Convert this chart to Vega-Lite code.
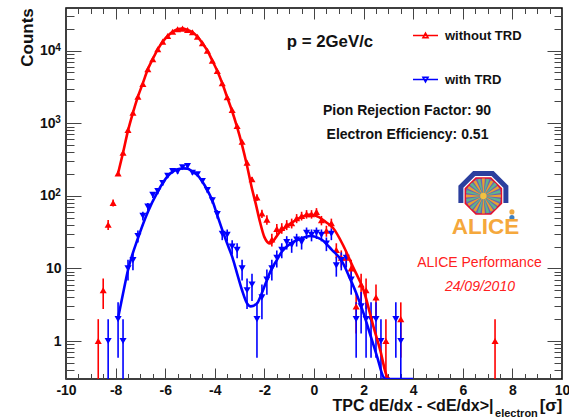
{
"$schema":"https://vega.github.io/schema/vega-lite/v6.json",
"autosize":{"type":"none"},
"padding":{"left":66,"top":8,"right":7,"bottom":40},
"width":496,"height":371,
"background":"white",
"config":{"font":"Liberation Sans","view":{"stroke":"#000","strokeWidth":1.5},"axis":{"grid":false,"domain":false,"labelFont":"Liberation Sans","labelFontWeight":"bold","labelFontSize":14,"labelColor":"#111","titleFont":"Liberation Sans","titleFontWeight":"bold","titleFontSize":16,"titleColor":"#111","tickColor":"#444","tickWidth":1,"labelFlush":false,"labelOverlap":false}},
"datasets":{
"pts":[
{"x":-8.7,"y":1,"lo":0.3,"hi":2,"s":"without TRD"},{"x":-8.5,"y":5,"lo":2.76,"hi":7.24,"s":"without TRD"},{"x":-8.3,"y":40,"lo":33.7,"hi":46.3,"s":"without TRD"},{"x":-8.1,"y":80,"lo":71,"hi":89,"s":"without TRD"},
{"x":-7.9,"y":204,"lo":190,"hi":218,"s":"without TRD"},{"x":-7.7,"y":392,"lo":372,"hi":412,"s":"without TRD"},{"x":-7.5,"y":806,"lo":778,"hi":834,"s":"without TRD"},{"x":-7.3,"y":1395,"lo":1358,"hi":1432,"s":"without TRD"},{"x":-7.1,"y":2317,"lo":2269,"hi":2365,"s":"without TRD"},{"x":-6.9,"y":3467,"lo":3408,"hi":3526,"s":"without TRD"},{"x":-6.7,"y":5526,"lo":5452,"hi":5600,"s":"without TRD"},{"x":-6.5,"y":7590,"lo":7503,"hi":7677,"s":"without TRD"},{"x":-6.3,"y":10420,"lo":10318,"hi":10522,"s":"without TRD"},{"x":-6.1,"y":13270,"lo":13155,"hi":13385,"s":"without TRD"},{"x":-5.9,"y":15890,"lo":15764,"hi":16016,"s":"without TRD"},{"x":-5.7,"y":18200,"lo":18065,"hi":18335,"s":"without TRD"},{"x":-5.5,"y":19640,"lo":19500,"hi":19780,"s":"without TRD"},{"x":-5.3,"y":20040,"lo":19898,"hi":20182,"s":"without TRD"},{"x":-5.1,"y":19220,"lo":19081,"hi":19359,"s":"without TRD"},{"x":-4.9,"y":17870,"lo":17736,"hi":18004,"s":"without TRD"},{"x":-4.7,"y":15540,"lo":15415,"hi":15665,"s":"without TRD"},{"x":-4.5,"y":12610,"lo":12498,"hi":12722,"s":"without TRD"},{"x":-4.3,"y":9970,"lo":9870,"hi":10070,"s":"without TRD"},{"x":-4.1,"y":7260,"lo":7175,"hi":7345,"s":"without TRD"},{"x":-3.9,"y":5240,"lo":5168,"hi":5312,"s":"without TRD"},{"x":-3.7,"y":3546,"lo":3486,"hi":3606,"s":"without TRD"},{"x":-3.5,"y":2274,"lo":2226,"hi":2322,"s":"without TRD"},{"x":-3.3,"y":1520,"lo":1481,"hi":1559,"s":"without TRD"},{"x":-3.1,"y":915,"lo":885,"hi":945,"s":"without TRD"},{"x":-2.9,"y":556,"lo":532,"hi":580,"s":"without TRD"},{"x":-2.7,"y":286,"lo":269,"hi":303,"s":"without TRD"},{"x":-2.5,"y":169,"lo":156,"hi":182,"s":"without TRD"},{"x":-2.3,"y":95,"lo":85,"hi":105,"s":"without TRD"},{"x":-2.1,"y":57,"lo":49.5,"hi":64.5,"s":"without TRD"},{"x":-1.9,"y":47,"lo":40,"hi":54,"s":"without TRD"},{"x":-1.7,"y":25,"lo":20,"hi":30,"s":"without TRD"},{"x":-1.5,"y":35,"lo":29,"hi":41,"s":"without TRD"},{"x":-1.3,"y":36,"lo":30,"hi":42,"s":"without TRD"},{"x":-1.1,"y":40,"lo":33.7,"hi":46.3,"s":"without TRD"},{"x":-0.9,"y":42,"lo":35.5,"hi":48.5,"s":"without TRD"},{"x":-0.7,"y":49,"lo":42,"hi":56,"s":"without TRD"},{"x":-0.5,"y":53,"lo":45.7,"hi":60.3,"s":"without TRD"},{"x":-0.3,"y":56,"lo":48.5,"hi":63.5,"s":"without TRD"},{"x":-0.1,"y":56,"lo":48.5,"hi":63.5,"s":"without TRD"},{"x":0.1,"y":60,"lo":52.3,"hi":67.7,"s":"without TRD"},{"x":0.3,"y":46,"lo":39.2,"hi":52.8,"s":"without TRD"},{"x":0.5,"y":33,"lo":27.3,"hi":38.7,"s":"without TRD"},{"x":0.7,"y":42,"lo":35.5,"hi":48.5,"s":"without TRD"},{"x":0.9,"y":18,"lo":13.8,"hi":22.2,"s":"without TRD"},{"x":1.1,"y":14,"lo":10.3,"hi":17.7,"s":"without TRD"},{"x":1.3,"y":14,"lo":10.3,"hi":17.7,"s":"without TRD"},{"x":1.5,"y":10,"lo":6.84,"hi":13.16,"s":"without TRD"},{"x":1.7,"y":3,"lo":1.27,"hi":4.73,"s":"without TRD"},{"x":1.9,"y":6,"lo":3.55,"hi":8.45,"s":"without TRD"},{"x":2.1,"y":5,"lo":2.76,"hi":7.24,"s":"without TRD"},{"x":2.5,"y":4,"lo":2,"hi":6,"s":"without TRD"},{"x":2.9,"y":1,"lo":0.3,"hi":2,"s":"without TRD"},{"x":3.5,"y":2,"lo":0.59,"hi":3.41,"s":"without TRD"},{"x":7.3,"y":1,"lo":0.3,"hi":2,"s":"without TRD"},
{"x":-8.3,"y":1,"lo":0.3,"hi":2,"s":"with TRD"},{"x":-7.9,"y":2,"lo":0.59,"hi":3.41,"s":"with TRD"},{"x":-7.7,"y":1,"lo":0.3,"hi":2,"s":"with TRD"},{"x":-7.5,"y":10,"lo":6.84,"hi":13.16,"s":"with TRD"},{"x":-7.3,"y":13,"lo":9.4,"hi":16.6,"s":"with TRD"},{"x":-7.1,"y":28,"lo":22.7,"hi":33.3,"s":"with TRD"},{"x":-6.9,"y":53,"lo":45.7,"hi":60.3,"s":"with TRD"},{"x":-6.7,"y":71,"lo":62.6,"hi":79.4,"s":"with TRD"},{"x":-6.5,"y":103,"lo":93,"hi":113,"s":"with TRD"},{"x":-6.3,"y":116,"lo":105,"hi":127,"s":"with TRD"},{"x":-6.1,"y":150,"lo":138,"hi":162,"s":"with TRD"},{"x":-5.9,"y":189,"lo":175,"hi":203,"s":"with TRD"},{"x":-5.7,"y":220,"lo":205,"hi":235,"s":"with TRD"},{"x":-5.5,"y":215,"lo":200,"hi":230,"s":"with TRD"},{"x":-5.3,"y":247,"lo":231,"hi":263,"s":"with TRD"},{"x":-5.1,"y":257,"lo":241,"hi":273,"s":"with TRD"},{"x":-4.9,"y":208,"lo":194,"hi":222,"s":"with TRD"},{"x":-4.7,"y":198,"lo":184,"hi":212,"s":"with TRD"},{"x":-4.5,"y":160,"lo":147,"hi":173,"s":"with TRD"},{"x":-4.3,"y":120,"lo":109,"hi":131,"s":"with TRD"},{"x":-4.1,"y":87,"lo":78,"hi":96,"s":"with TRD"},{"x":-3.9,"y":56,"lo":48.5,"hi":63.5,"s":"with TRD"},{"x":-3.7,"y":30,"lo":24.5,"hi":35.5,"s":"with TRD"},{"x":-3.5,"y":29,"lo":23.6,"hi":34.4,"s":"with TRD"},{"x":-3.3,"y":20,"lo":15.5,"hi":24.5,"s":"with TRD"},{"x":-3.1,"y":18,"lo":13.8,"hi":22.2,"s":"with TRD"},{"x":-2.9,"y":10,"lo":6.84,"hi":13.16,"s":"with TRD"},{"x":-2.7,"y":5,"lo":2.76,"hi":7.24,"s":"with TRD"},{"x":-2.5,"y":6,"lo":3.55,"hi":8.45,"s":"with TRD"},{"x":-2.3,"y":2,"lo":0.59,"hi":3.41,"s":"with TRD"},{"x":-2.1,"y":4,"lo":2,"hi":6,"s":"with TRD"},{"x":-1.9,"y":7,"lo":4.35,"hi":9.65,"s":"with TRD"},{"x":-1.7,"y":10,"lo":6.84,"hi":13.16,"s":"with TRD"},{"x":-1.5,"y":14,"lo":10.3,"hi":17.7,"s":"with TRD"},{"x":-1.3,"y":18,"lo":13.8,"hi":22.2,"s":"with TRD"},{"x":-1.1,"y":23,"lo":18.2,"hi":27.8,"s":"with TRD"},{"x":-0.9,"y":21,"lo":16.4,"hi":25.6,"s":"with TRD"},{"x":-0.7,"y":25,"lo":20,"hi":30,"s":"with TRD"},{"x":-0.5,"y":23,"lo":18.2,"hi":27.8,"s":"with TRD"},{"x":-0.3,"y":31,"lo":25.4,"hi":36.6,"s":"with TRD"},{"x":-0.1,"y":29,"lo":23.6,"hi":34.4,"s":"with TRD"},{"x":0.1,"y":31,"lo":25.4,"hi":36.6,"s":"with TRD"},{"x":0.3,"y":29,"lo":23.6,"hi":34.4,"s":"with TRD"},{"x":0.5,"y":22,"lo":17.3,"hi":26.7,"s":"with TRD"},{"x":0.7,"y":30,"lo":24.5,"hi":35.5,"s":"with TRD"},{"x":0.9,"y":11,"lo":7.7,"hi":14.3,"s":"with TRD"},{"x":1.1,"y":13,"lo":9.4,"hi":16.6,"s":"with TRD"},{"x":1.3,"y":14,"lo":10.3,"hi":17.7,"s":"with TRD"},{"x":1.5,"y":7,"lo":4.35,"hi":9.65,"s":"with TRD"},{"x":1.7,"y":2,"lo":0.59,"hi":3.41,"s":"with TRD"},{"x":1.9,"y":3,"lo":1.27,"hi":4.73,"s":"with TRD"},{"x":2.1,"y":2,"lo":0.59,"hi":3.41,"s":"with TRD"},{"x":2.3,"y":2,"lo":0.59,"hi":3.41,"s":"with TRD"},{"x":2.5,"y":2,"lo":0.59,"hi":3.41,"s":"with TRD"},{"x":2.7,"y":1,"lo":0.3,"hi":2,"s":"with TRD"},{"x":3.3,"y":2,"lo":0.59,"hi":3.41,"s":"with TRD"},{"x":3.5,"y":1,"lo":0.3,"hi":2,"s":"with TRD"}
],
"fit":[
{"x":-7.9,"y":204,"s":"without TRD"},{"x":-7.7,"y":392,"s":"without TRD"},{"x":-7.5,"y":790,"s":"without TRD"},{"x":-7.3,"y":1395,"s":"without TRD"},{"x":-7.1,"y":2317,"s":"without TRD"},{"x":-6.9,"y":3567,"s":"without TRD"},{"x":-6.7,"y":5526,"s":"without TRD"},{"x":-6.5,"y":7700,"s":"without TRD"},{"x":-6.3,"y":10420,"s":"without TRD"},{"x":-6.1,"y":13270,"s":"without TRD"},{"x":-5.9,"y":15890,"s":"without TRD"},{"x":-5.7,"y":18200,"s":"without TRD"},{"x":-5.5,"y":19640,"s":"without TRD"},{"x":-5.3,"y":20040,"s":"without TRD"},{"x":-5.1,"y":19220,"s":"without TRD"},{"x":-4.9,"y":17870,"s":"without TRD"},{"x":-4.7,"y":15540,"s":"without TRD"},{"x":-4.5,"y":12610,"s":"without TRD"},{"x":-4.3,"y":9970,"s":"without TRD"},{"x":-4.1,"y":7260,"s":"without TRD"},{"x":-3.9,"y":5240,"s":"without TRD"},{"x":-3.7,"y":3546,"s":"without TRD"},{"x":-3.5,"y":2274,"s":"without TRD"},{"x":-3.3,"y":1460,"s":"without TRD"},{"x":-3.1,"y":880,"s":"without TRD"},{"x":-2.9,"y":500,"s":"without TRD"},{"x":-2.7,"y":260,"s":"without TRD"},{"x":-2.5,"y":125,"s":"without TRD"},{"x":-2.35,"y":78,"s":"without TRD"},{"x":-2.18,"y":44,"s":"without TRD"},{"x":-2,"y":27,"s":"without TRD"},{"x":-1.77,"y":22,"s":"without TRD"},{"x":-1.6,"y":25,"s":"without TRD"},{"x":-1.4,"y":31,"s":"without TRD"},{"x":-1.1,"y":38,"s":"without TRD"},{"x":-0.83,"y":44,"s":"without TRD"},{"x":-0.5,"y":51,"s":"without TRD"},{"x":-0.16,"y":55,"s":"without TRD"},{"x":0.2,"y":51,"s":"without TRD"},{"x":0.5,"y":43,"s":"without TRD"},{"x":0.77,"y":36,"s":"without TRD"},{"x":1.17,"y":21,"s":"without TRD"},{"x":1.57,"y":10.5,"s":"without TRD"},{"x":2,"y":5,"s":"without TRD"},{"x":2.4,"y":1.57,"s":"without TRD"},{"x":2.67,"y":0.75,"s":"without TRD"},{"x":2.95,"y":0.32,"s":"without TRD"},{"x":3.05,"y":0.3,"s":"without TRD"},
{"x":-7.9,"y":2.07,"s":"with TRD"},{"x":-7.7,"y":4.5,"s":"with TRD"},{"x":-7.5,"y":9.5,"s":"with TRD"},{"x":-7.1,"y":26,"s":"with TRD"},{"x":-6.7,"y":60,"s":"with TRD"},{"x":-6.3,"y":114,"s":"with TRD"},{"x":-6.1,"y":150,"s":"with TRD"},{"x":-5.9,"y":187,"s":"with TRD"},{"x":-5.7,"y":215,"s":"with TRD"},{"x":-5.3,"y":239,"s":"with TRD"},{"x":-5.1,"y":237,"s":"with TRD"},{"x":-4.9,"y":215,"s":"with TRD"},{"x":-4.7,"y":193,"s":"with TRD"},{"x":-4.5,"y":156,"s":"with TRD"},{"x":-4.3,"y":120,"s":"with TRD"},{"x":-4.1,"y":86,"s":"with TRD"},{"x":-3.9,"y":54,"s":"with TRD"},{"x":-3.7,"y":34,"s":"with TRD"},{"x":-3.5,"y":22,"s":"with TRD"},{"x":-3.3,"y":14.5,"s":"with TRD"},{"x":-3.1,"y":8.5,"s":"with TRD"},{"x":-2.9,"y":5,"s":"with TRD"},{"x":-2.7,"y":3.3,"s":"with TRD"},{"x":-2.55,"y":3,"s":"with TRD"},{"x":-2.3,"y":3.3,"s":"with TRD"},{"x":-2.1,"y":4.6,"s":"with TRD"},{"x":-1.9,"y":6.9,"s":"with TRD"},{"x":-1.7,"y":10,"s":"with TRD"},{"x":-1.5,"y":13,"s":"with TRD"},{"x":-1.3,"y":17,"s":"with TRD"},{"x":-1.1,"y":20,"s":"with TRD"},{"x":-0.85,"y":23,"s":"with TRD"},{"x":-0.5,"y":26,"s":"with TRD"},{"x":-0.15,"y":28,"s":"with TRD"},{"x":0.3,"y":25,"s":"with TRD"},{"x":0.72,"y":18,"s":"with TRD"},{"x":1.1,"y":13,"s":"with TRD"},{"x":1.45,"y":7.3,"s":"with TRD"},{"x":1.7,"y":4.6,"s":"with TRD"},{"x":2,"y":2.4,"s":"with TRD"},{"x":2.25,"y":1.28,"s":"with TRD"},{"x":2.55,"y":0.6,"s":"with TRD"},{"x":2.8,"y":0.32,"s":"with TRD"},{"x":2.9,"y":0.3,"s":"with TRD"},{"x":4,"y":0.3,"s":"with TRD"}
],
"notes":[
{"x":0.645,"y":13000,"t":"p = 2GeV/c","k":"p"},
{"x":3.75,"y":1472,"t":"Pion Rejection Factor: 90","k":"b"},
{"x":3.77,"y":688,"t":"Electron Efficiency: 0.51","k":"b"},
{"x":7.3,"y":0.1,"t":"electron","k":"sub"},
{"x":9.56,"y":0.127,"t":"[σ]","k":"sig"}
],
"sup":[{"x":-10.32,"y":11000,"t":"4"},{"x":-10.32,"y":1100,"t":"3"},{"x":-10.32,"y":110,"t":"2"}],
"logo":[{"x":6.83,"y":99.4}]
},
"layer":[
{"data":{"name":"pts"},"mark":{"type":"rule","strokeWidth":1.6,"clip":true},
 "encoding":{
  "x":{"field":"x","type":"quantitative","scale":{"domain":[-10,10],"nice":false,"zero":false},"axis":{"orient":"bottom","values":[-9.5,-9,-8.5,-7.5,-7,-6.5,-5.5,-5,-4.5,-3.5,-3,-2.5,-1.5,-1,-0.5,0.5,1,1.5,2.5,3,3.5,4.5,5,5.5,6.5,7,7.5,8.5,9,9.5],"tickSize":-5.5,"labels":false,"title":null}},
  "y":{"field":"lo","type":"quantitative","scale":{"type":"log","domain":[0.3,38600],"nice":false},"axis":{"orient":"left","values":[0.4,0.5,0.6,0.7,0.8,0.9,2,3,4,5,6,7,8,9,20,30,40,50,60,70,80,90,200,300,400,500,600,700,800,900,2000,3000,4000,5000,6000,7000,8000,9000,20000,30000],"tickSize":-8,"labels":false,"title":null}},
  "y2":{"field":"hi"},
  "color":{"field":"s","type":"nominal","scale":{"domain":["without TRD","with TRD"],"range":["#ff0000","#0000ff"]},
   "legend":{"orient":"none","legendX":346,"legendY":14,"title":null,"symbolSize":625,"symbolStrokeWidth":1.6,"symbolOpacity":1,"labelFont":"Liberation Sans","labelFontWeight":"bold","labelFontSize":13,"labelColor":"#111","rowPadding":23,"labelOffset":6,"encoding":{"symbols":{"shape":{"condition":{"test":"datum.value=='with TRD'","value":"M-1,0H1M-0.2,-0.18L0.2,-0.18L0,0.18Z"},"value":"M-1,0H1M-0.2,0.18L0.2,0.18L0,-0.18Z"}}}}}
 }},
{"data":{"name":"pts"},"transform":[{"filter":"datum.s=='without TRD'"}],"mark":{"type":"point","filled":true,"opacity":1,"size":50,"clip":true,"shape":"triangle-up"},
 "encoding":{
  "x":{"field":"x","type":"quantitative","axis":{"orient":"bottom","values":[-10,-8,-6,-4,-2,0,2,4,6,8,10],"tickSize":-11,"labelPadding":15,"labelExpr":"''+datum.value","title":"TPC dE/dx - <dE/dx>|","titleX":346.5,"titleY":26,"titleAlign":"center","titleBaseline":"middle"}},
  "y":{"field":"y","type":"quantitative","axis":{"orient":"left","values":[1,10],"tickSize":-15,"labelPadding":20,"labelBaseline":"middle","labelExpr":"''+datum.value","title":"Counts","titleX":-39,"titleY":29,"titleAlign":"center","titleBaseline":"middle","titleFontSize":17}},
  "color":{"value":"#ff0000"}
 }},
{"data":{"name":"pts"},"transform":[{"filter":"datum.s=='with TRD'"}],"mark":{"type":"point","filled":true,"opacity":1,"size":50,"clip":true,"shape":"triangle-down"},
 "encoding":{
  "x":{"field":"x","type":"quantitative","axis":null},
  "y":{"field":"y","type":"quantitative","axis":null},
  "color":{"value":"#0000ff"}
 }},
{"data":{"name":"fit"},"mark":{"type":"line","strokeWidth":2.6,"interpolate":"monotone","clip":true},
 "encoding":{
  "x":{"field":"x","type":"quantitative","axis":{"orient":"top","values":[-10,-8,-6,-4,-2,0,2,4,6,8,10],"tickSize":-11,"labels":false,"title":null}},
  "y":{"field":"y","type":"quantitative","axis":{"orient":"right","values":[1,10,100,1000,10000],"tickSize":-15,"labels":false,"title":null}},
  "color":{"field":"s","type":"nominal"}
 }},
{"data":{"name":"notes"},"mark":{"type":"text","font":"Liberation Sans","fontWeight":"bold","color":"#111","fontSize":14},
 "transform":[{"filter":"datum.k=='b'"}],
 "encoding":{
  "x":{"field":"x","type":"quantitative","axis":{"orient":"top","values":[-9.5,-9,-8.5,-7.5,-7,-6.5,-5.5,-5,-4.5,-3.5,-3,-2.5,-1.5,-1,-0.5,0.5,1,1.5,2.5,3,3.5,4.5,5,5.5,6.5,7,7.5,8.5,9,9.5],"tickSize":-5.5,"labels":false,"title":null}},
  "y":{"field":"y","type":"quantitative","axis":{"orient":"right","values":[0.4,0.5,0.6,0.7,0.8,0.9,2,3,4,5,6,7,8,9,20,30,40,50,60,70,80,90,200,300,400,500,600,700,800,900,2000,3000,4000,5000,6000,7000,8000,9000,20000,30000],"tickSize":-8,"labels":false,"title":null}},
  "text":{"field":"t"}
 }},
{"data":{"name":"notes"},"mark":{"type":"text","font":"Liberation Sans","fontWeight":"bold","color":"#111","fontSize":16.8},
 "transform":[{"filter":"datum.k=='p'||datum.k=='sig'"}],
 "encoding":{"x":{"field":"x","type":"quantitative","axis":null},"y":{"field":"y","type":"quantitative","axis":null},"text":{"field":"t"}}},
{"data":{"name":"notes"},"mark":{"type":"text","font":"Liberation Sans","fontWeight":"bold","color":"#111","fontSize":11,"align":"left"},
 "transform":[{"filter":"datum.k=='sub'"}],
 "encoding":{"x":{"field":"x","type":"quantitative","axis":null},"y":{"field":"y","type":"quantitative","axis":null},"text":{"field":"t"}}},
{"data":{"name":"sup"},"mark":{"type":"text","font":"Liberation Sans","fontWeight":"bold","color":"#111","fontSize":10},
 "encoding":{"x":{"field":"x","type":"quantitative","axis":null},"y":{"field":"y","type":"quantitative","axis":{"orient":"left","values":[100,1000,10000],"tickSize":-15,"labelPadding":26,"labelBaseline":"middle","labelExpr":"'10'","title":null}},"text":{"field":"t"}}},
{"data":{"values":[{"x":6.67,"y":11.9,"t":"ALICE Performance"}]},"mark":{"type":"text","font":"Liberation Sans","color":"#ff2020","fontSize":14},
 "encoding":{"x":{"field":"x","type":"quantitative","axis":null},"y":{"field":"y","type":"quantitative","axis":null},"text":{"field":"t"}}},
{"data":{"values":[{"x":6.69,"y":5.5,"t":"24/09/2010"}]},"mark":{"type":"text","font":"Liberation Sans","fontStyle":"italic","color":"#ff2020","fontSize":14},
 "encoding":{"x":{"field":"x","type":"quantitative","axis":null},"y":{"field":"y","type":"quantitative","axis":null},"text":{"field":"t"}}},
{"data":{"name":"logo"},"mark":{"type":"point","filled":true,"opacity":1,"shape":"M-1,0.28L-1,-0.41L-0.41,-1L0.41,-1L1,-0.41L1,0.28Z","size":2500,"color":"#2b3f9e"},
 "encoding":{"x":{"field":"x","type":"quantitative","axis":null},"y":{"field":"y","type":"quantitative","axis":null}}},
{"data":{"name":"logo"},"mark":{"type":"point","filled":true,"opacity":1,"shape":"M-0.41,-1L0.41,-1L1,-0.41L1,0.41L0.41,1L-0.41,1L-1,0.41L-1,-0.41Z","size":1600,"color":"#ffffff"},
 "encoding":{"x":{"field":"x","type":"quantitative","axis":null},"y":{"field":"y","type":"quantitative","axis":null}}},
{"data":{"name":"logo"},"mark":{"type":"point","opacity":1,"shape":"M-0.41,-1L0.41,-1L1,-0.41L1,0.41L0.41,1L-0.41,1L-1,0.41L-1,-0.41Z","size":1300,"fill":"#6a62b5","fillOpacity":1,"stroke":"#e8102a","strokeWidth":1.6},
 "encoding":{"x":{"field":"x","type":"quantitative","axis":null},"y":{"field":"y","type":"quantitative","axis":null}}},
{"data":{"name":"logo"},"mark":{"type":"point","filled":true,"opacity":1,"angle":15,"shape":"M0,0L0.996,-0.087L0.996,0.087ZM0,0L0.906,0.423L0.819,0.574ZM0,0L0.574,0.819L0.423,0.906ZM0,0L0.087,0.996L-0.087,0.996ZM0,0L-0.423,0.906L-0.574,0.819ZM0,0L-0.819,0.574L-0.906,0.423ZM0,0L-0.996,0.087L-0.996,-0.087ZM0,0L-0.906,-0.423L-0.819,-0.574ZM0,0L-0.574,-0.819L-0.423,-0.906ZM0,0L-0.087,-0.996L0.087,-0.996ZM0,0L0.423,-0.906L0.574,-0.819ZM0,0L0.819,-0.574L0.906,-0.423Z","size":1225,"color":"#5fb58a"},
 "encoding":{"x":{"field":"x","type":"quantitative","axis":null},"y":{"field":"y","type":"quantitative","axis":null}}},
{"data":{"name":"logo"},"mark":{"type":"point","filled":true,"opacity":1,"shape":"M0,0L0.996,-0.087L0.996,0.087ZM0,0L0.906,0.423L0.819,0.574ZM0,0L0.574,0.819L0.423,0.906ZM0,0L0.087,0.996L-0.087,0.996ZM0,0L-0.423,0.906L-0.574,0.819ZM0,0L-0.819,0.574L-0.906,0.423ZM0,0L-0.996,0.087L-0.996,-0.087ZM0,0L-0.906,-0.423L-0.819,-0.574ZM0,0L-0.574,-0.819L-0.423,-0.906ZM0,0L-0.087,-0.996L0.087,-0.996ZM0,0L0.423,-0.906L0.574,-0.819ZM0,0L0.819,-0.574L0.906,-0.423Z","size":1225,"color":"#e8a030"},
 "encoding":{"x":{"field":"x","type":"quantitative","axis":null},"y":{"field":"y","type":"quantitative","axis":null}}},
{"data":{"name":"logo"},"mark":{"type":"circle","opacity":1,"size":40,"color":"#f2c040"},
 "encoding":{"x":{"field":"x","type":"quantitative","axis":null},"y":{"field":"y","type":"quantitative","axis":null}}},
{"data":{"values":[{"x":7.98,"y":60},{"x":7.98,"y":50,"b":1}]},"mark":{"type":"circle","opacity":1,"size":26},
 "encoding":{"x":{"field":"x","type":"quantitative","axis":null},"y":{"field":"y","type":"quantitative","axis":null},"color":{"condition":{"test":"datum.b==1","value":"#3f7fc0"},"value":"#f0a840"}}},
{"data":{"values":[{"x":6.92,"y":37,"t":"ALICE"}]},"mark":{"type":"text","font":"Liberation Sans","fontWeight":"bold","color":"#f5a83c","fontSize":22.5},
 "encoding":{"x":{"field":"x","type":"quantitative","axis":null},"y":{"field":"y","type":"quantitative","axis":null},"text":{"field":"t"}}}
],
"resolve":{"axis":{"x":"independent","y":"independent"}}
}
